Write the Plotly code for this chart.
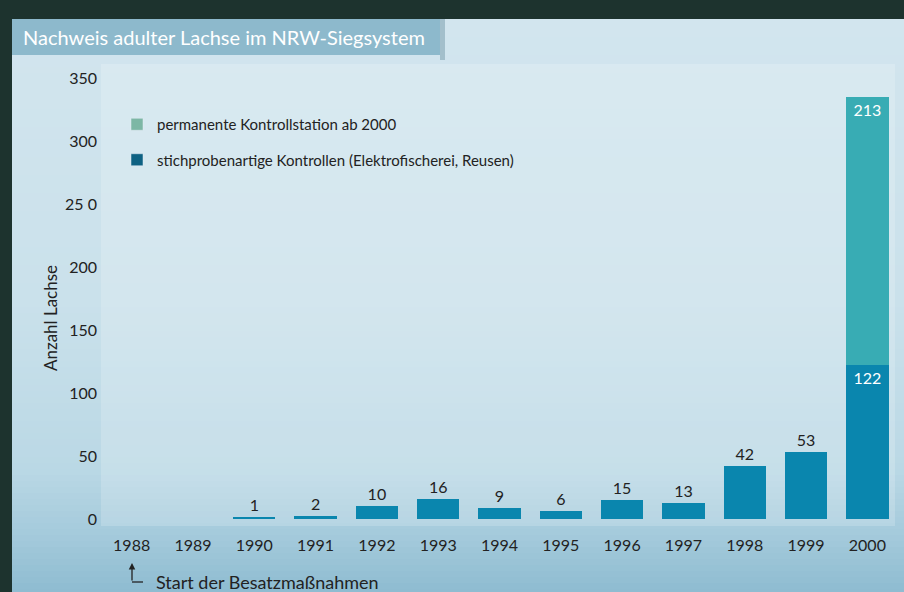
import plotly.graph_objects as go

# ---------------- data ----------------
years = ["1988", "1989", "1990", "1991", "1992", "1993", "1994",
         "1995", "1996", "1997", "1998", "1999", "2000"]
stichproben = [0, 0, 1, 2, 10, 16, 9, 6, 15, 13, 42, 53, 122]
permanent = [None] * 12 + [213]
y_tickvals = [0, 50, 100, 150, 200, 250, 300, 350]
y_ticktext = ["0", "50", "100", "150", "200", "25 0", "300", "350"]

name_perm = "permanente Kontrollstation ab 2000"
name_stich = "stichprobenartige Kontrollen (Elektrofischerei, Reusen)"
title = "Nachweis adulter Lachse im NRW-Siegsystem"
ytitle = "Anzahl Lachse"
note = "Start der Besatzmaßnahmen"

FONT = "Lato, 'Open Sans', sans-serif"
W, H = 904, 592
ML, MR, MT, MB = 101, 6, 78, 73
PW = W - ML - MR
PH = H - MT - MB


def px2x(px):
    return (px - ML) / PW


def py2y(py):
    return (H - MB - py) / PH


def hex2rgb(h):
    h = h.lstrip("#")
    return tuple(int(h[i:i + 2], 16) for i in (0, 2, 4))


def interp(stops, py):
    for (p0, c0), (p1, c1) in zip(stops, stops[1:]):
        if p0 <= py <= p1:
            t = (py - p0) / (p1 - p0) if p1 > p0 else 0
            a, b = hex2rgb(c0), hex2rgb(c1)
            return "rgb(%d,%d,%d)" % tuple(round(a[i] + (b[i] - a[i]) * t) for i in range(3))
    return stops[-1][1]


def stich_text(v):
    return str(v) if v else ""


fig = go.Figure()

fig.add_trace(go.Bar(
    x=years, y=stichproben, name=name_stich, showlegend=False,
    marker=dict(color="#0a86ae", line=dict(width=0)),
    text=[stich_text(v) for v in stichproben],
    textposition=["outside"] * 12 + ["inside"],
    insidetextanchor="end",
    outsidetextfont=dict(family=FONT, size=16, color="#222222"),
    insidetextfont=dict(family=FONT, size=16, color="white"),
    cliponaxis=False,
    hoverinfo="x+y",
))
fig.add_trace(go.Bar(
    x=years, y=permanent, name=name_perm, showlegend=False,
    marker=dict(color="#38acb4", line=dict(width=0)),
    text=["" if v is None else str(v) for v in permanent],
    textposition="inside",
    insidetextanchor="end",
    insidetextfont=dict(family=FONT, size=16, color="white"),
    cliponaxis=False,
    hoverinfo="x+y",
))
# legend-only entries (swatch colours of the original legend)
fig.add_trace(go.Bar(x=[None], y=[None], name=name_perm, legendgroup="a",
                     marker=dict(color="#7db7a5")))
fig.add_trace(go.Bar(x=[None], y=[None], name=name_stich, legendgroup="b",
                     marker=dict(color="#0e6283")))

shapes = []
# panel gradient
stops = [(19, "#d2e5ee"), (300, "#cae1eb"), (470, "#bad8e5"), (530, "#a6cbdc"), (592, "#8ebcd1")]
step = 6
py = 19
while py < 592:
    p1 = min(py + step, 592)
    shapes.append(dict(type="rect", xref="paper", yref="paper", layer="below",
                       x0=px2x(12), x1=px2x(904), y0=py2y(py), y1=py2y(p1),
                       fillcolor=interp(stops, (py + p1) / 2), line=dict(width=0)))
    py = p1
# lighter plot area
shapes.append(dict(type="rect", xref="paper", yref="paper", layer="below",
                   x0=px2x(101), x1=px2x(895), y0=py2y(526), y1=py2y(64),
                   fillcolor="rgba(255,255,255,0.18)", line=dict(width=0)))
# title box
shapes.append(dict(type="rect", xref="paper", yref="paper", layer="below",
                   x0=px2x(12), x1=px2x(440), y0=py2y(55), y1=py2y(19),
                   fillcolor="#8db9cc", line=dict(width=0)))
shapes.append(dict(type="rect", xref="paper", yref="paper", layer="below",
                   x0=px2x(440), x1=px2x(445), y0=py2y(60), y1=py2y(19),
                   fillcolor="#a3bfcb", line=dict(width=0)))
# hook of the arrow
shapes.append(dict(type="line", xref="paper", yref="paper",
                   x0=px2x(132), x1=px2x(143), y0=py2y(582), y1=py2y(582),
                   line=dict(color="#222222", width=1.3)))

annotations = [
    dict(text=title, xref="paper", yref="paper", x=px2x(21), y=py2y(37),
         xanchor="left", yanchor="middle", showarrow=False,
         font=dict(family=FONT, size=20, color="white")),
    dict(text=ytitle, xref="paper", yref="paper", x=px2x(50), y=py2y(318),
         xanchor="center", yanchor="middle", textangle=-90, showarrow=False,
         font=dict(family=FONT, size=17, color="#222222")),
    dict(text=note, xref="paper", yref="paper", x=px2x(154), y=py2y(582),
         xanchor="left", yanchor="middle", showarrow=False,
         font=dict(family=FONT, size=18, color="#222222")),
    dict(text="", xref="paper", yref="paper", x=px2x(132), y=py2y(563),
         showarrow=True, ax=0, ay=19, arrowhead=2, arrowsize=1, arrowwidth=1.3,
         arrowcolor="#222222"),
]

fig.update_layout(
    width=W, height=H,
    margin=dict(l=ML, r=MR, t=MT, b=MB, pad=0),
    paper_bgcolor="#1d332e",
    plot_bgcolor="rgba(0,0,0,0)",
    barmode="stack",
    bargap=0.31,
    font=dict(family=FONT, color="#222222"),
    showlegend=True,
    legend=dict(x=px2x(117), y=py2y(108), xanchor="left", yanchor="top",
                bgcolor="rgba(0,0,0,0)", traceorder="grouped", tracegroupgap=13,
                font=dict(family=FONT, size=15, color="#222222")),
    xaxis=dict(type="category", showgrid=False, zeroline=False, showline=False,
               ticks="", tickfont=dict(family=FONT, size=16, color="#222222"),
               ticklabelstandoff=15, fixedrange=True),
    yaxis=dict(range=[0, 350], tickvals=y_tickvals, ticktext=y_ticktext,
               showgrid=False, zeroline=False, showline=False, ticks="",
               tickfont=dict(family=FONT, size=16, color="#222222"),
               ticklabelstandoff=3, fixedrange=True),
    shapes=shapes,
    annotations=annotations,
)

fig.write_html("out.html", config={"displayModeBar": False},
               post_script="document.body.style.margin='0';document.body.style.padding='0';")
